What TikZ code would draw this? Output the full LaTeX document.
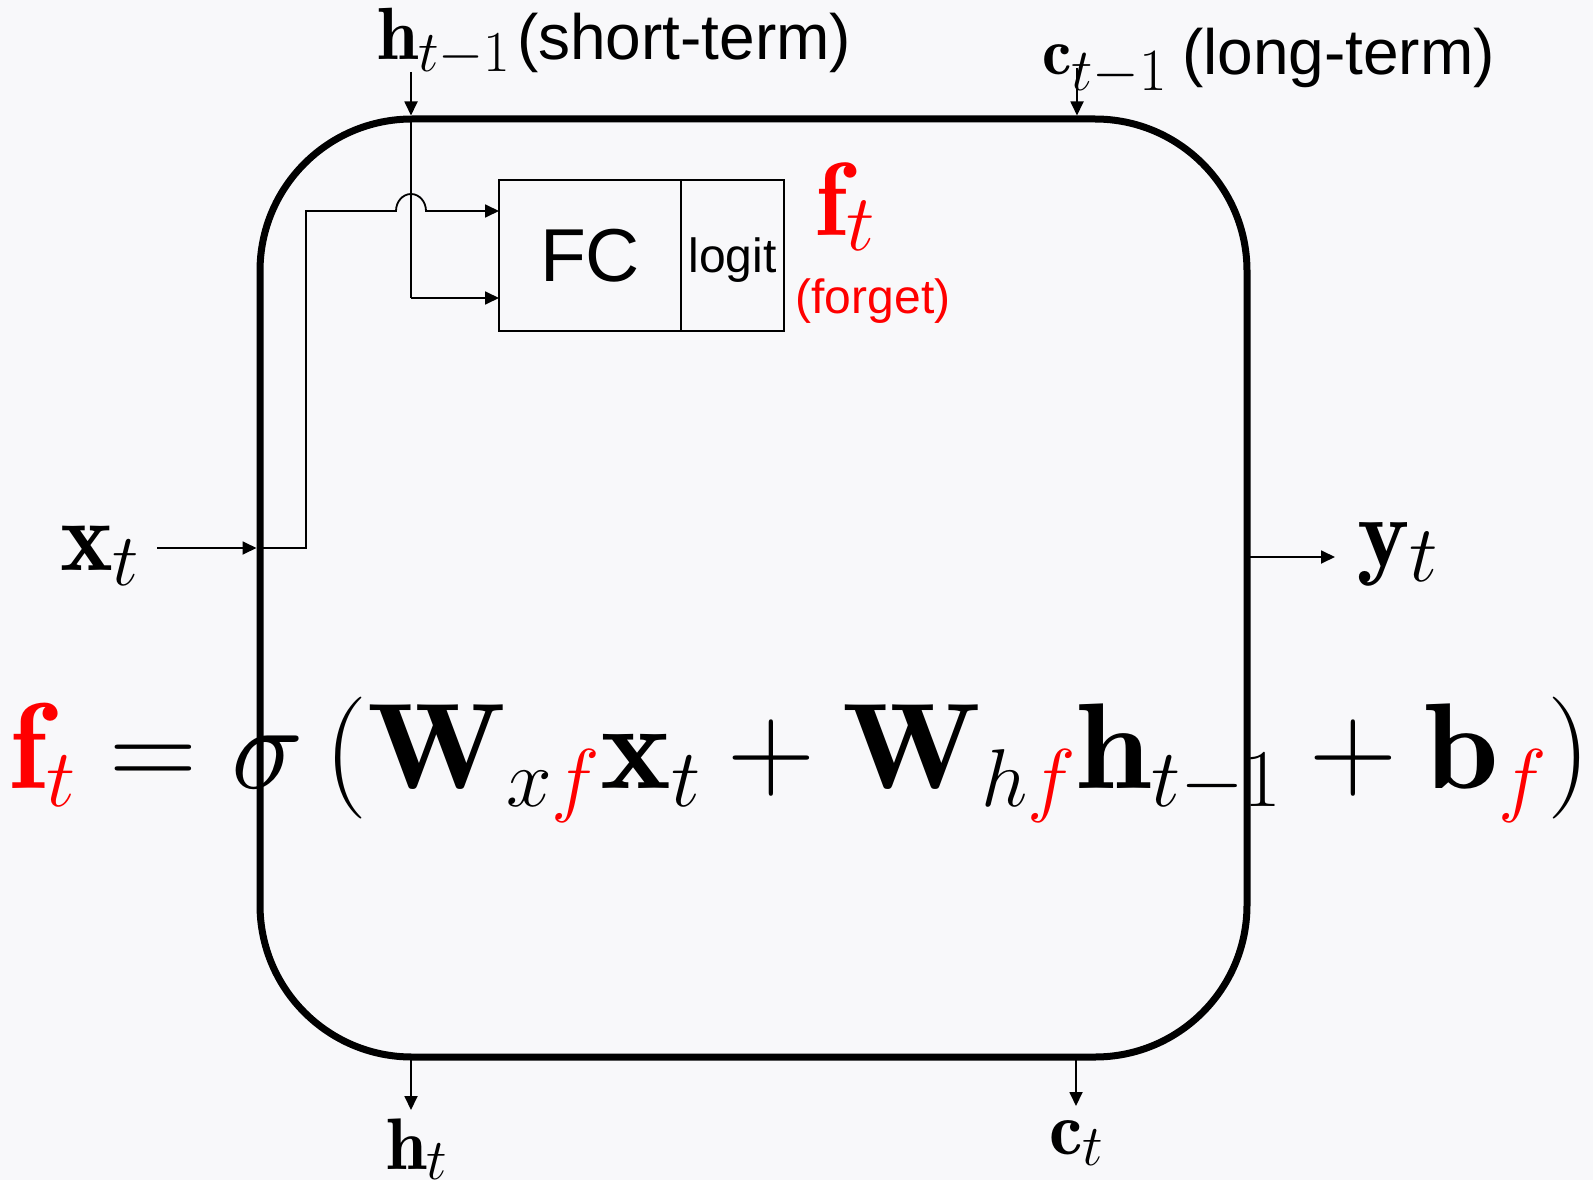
\RequirePackage{fix-cm}
\documentclass[tikz,border=0pt]{standalone}
\usepackage{fontspec}
\usepackage{graphicx}
\newfontfamily\arialfont{Liberation Sans}
\usetikzlibrary{arrows.meta,calc}
\definecolor{bg}{RGB}{248,248,250}
\DeclareMathSizes{122}{122}{82}{60}
\DeclareMathSizes{74}{74}{58}{46}
\DeclareMathSizes{66}{66}{60}{48}
\DeclareMathSizes{73}{73}{58}{44}
\DeclareMathSizes{75}{75}{58}{44}
\DeclareMathSizes{100}{100}{74}{55}
\DeclareMathSizes{99}{99}{80}{60}
\DeclareMathSizes{104}{104}{80}{60}
\newcommand{\myfs}[1]{\fontsize{#1}{#1}\selectfont}
\newcommand{\bw}[1]{\mathord{\scalebox{1.1}[1]{$\mathbf{#1}$}}}
\tikzset{
  arr/.style={line width=1.8pt, -{Triangle[length=14pt,width=13pt]}},
  wire/.style={line width=1.8pt},
  lbl/.style={inner sep=0pt, outer sep=0pt, anchor=base west},
  boxed/.style={draw, line width=1.8pt, inner sep=0pt, outer sep=0pt, minimum height=151pt},
}
\begin{document}
\begin{tikzpicture}[x=1pt,y=-1pt]
\path[fill=bg] (0,0) rectangle (1593,1180);
\useasboundingbox (0,0) rectangle (1593,1180);

% equation
\node[inner sep=0pt, anchor=base] (eq) at (800,788) {\myfs{122}$\textcolor{red}{\mathbf{f}_t} = \sigma\,(\bw{W}_{x\textcolor{red}{f}}\bw{x}_t + \bw{W}_{h\textcolor{red}{f}}\bw{h}_{t-1} + \bw{b}_{\textcolor{red}{f}})$};

% cell
\node[draw, line width=7pt, rounded corners=152pt, minimum width=987pt, minimum height=938pt, inner sep=0pt, outer sep=0pt] (cell) at (753.5,588) {};

% FC + logit
\node[boxed, minimum width=182pt] (fc) at (590,255.5) {\arialfont\myfs{75}FC};
\node[boxed, minimum width=103pt, text depth=0pt] (logit) at (732.5,255.5) {\arialfont\myfs{48}logit};

% labels
\node[lbl] (hprev) at (377,60) {\myfs{74}$\mathbf{h}_{t-1}$};
\node[lbl] (stlab) at (517,60) {\arialfont\myfs{64}(short-term)};
\node[lbl] (cprev) at (1042,75) {\myfs{66}$\mathbf{c}_{t-1}$};
\node[lbl] (ltlab) at (1182,75) {\arialfont\myfs{64}(long-term)};
\node[lbl] (xin) at (60,570) {\myfs{100}$\mathbf{x}_t$};
\node[lbl] (yout) at (1357,566) {\myfs{99}$\mathbf{y}_t$};
\node[lbl] (hout) at (386,1169) {\myfs{73}$\mathbf{h}_t$};
\node[lbl] (cout) at (1049,1154) {\myfs{75}$\mathbf{c}_t$};
\node[lbl, text=red] (flab) at (815,235) {\myfs{104}$\mathbf{f}_t$};
\node[anchor=base, inner sep=0pt, text=red] (fglab) at (873,313) {\arialfont\myfs{48}(forget)};

% coordinates
\coordinate (hx) at (411,72);
\coordinate (cx) at (1077,68);
\coordinate (xs) at (157,548);
\coordinate (hlow) at (411,298);
\coordinate (xhigh) at (306,211);
\coordinate (hop) at (411,211);
\coordinate (yo) at (1335,557);
\coordinate (ho) at (411,1110);
\coordinate (co) at (1076,1106);

% connectors
\draw[arr] (hx) -- ($(hx |- cell.north)+(0,-3.5)$);
\draw[wire] (hx |- cell.north) -- (hlow);
\draw[arr] (hlow) -- (hlow -| fc.west);
\draw[arr] (cx) -- ($(cx |- cell.north)+(0,-3.5)$);
\draw[arr] (xs) -- ($(xs -| cell.west)+(-3.5,0)$);
\draw[arr] (xs -| cell.west) -- (xs -| xhigh) -- (xhigh) -- ($(hop)+(-15,0)$)
  arc[start angle=180, end angle=360, x radius=15, y radius=17] -- (hop -| fc.west);
\draw[arr] (yo -| cell.east) -- (yo);
\draw[arr] (ho |- cell.south) -- (ho);
\draw[arr] (co |- cell.south) -- (co);
\end{tikzpicture}
\end{document}
